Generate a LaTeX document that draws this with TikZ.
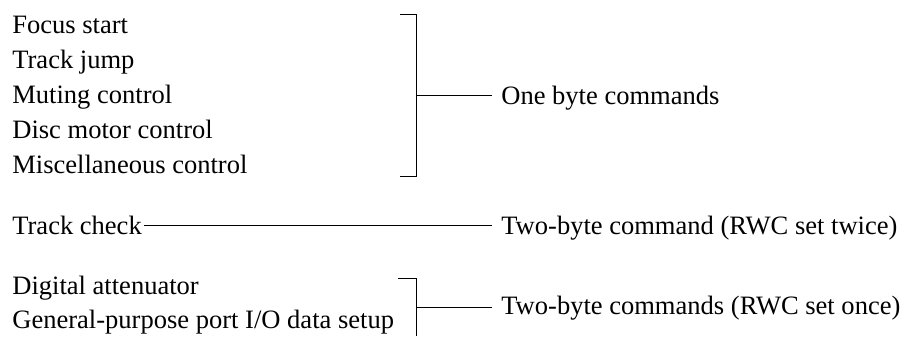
\documentclass[tikz,border=0pt]{standalone}
\usepackage{fontspec}
\setmainfont{Liberation Serif}
\usepackage{tikz}
\usetikzlibrary{positioning}

\tikzset{item/.style={inner sep=0pt, anchor=base west, font=\fontsize{15.1pt}{18pt}\selectfont}}

\begin{document}
\begin{tikzpicture}
		\useasboundingbox (0,0) rectangle (18.10,-6.72);

		\node[item] (focus) at (0.24,-0.66) {Focus start};
		\node[item] (jump) at (0.24,-1.36) {Track jump};
		\node[item] (muting) at (0.24,-2.06) {Muting control};
		\node[item] (disc) at (0.24,-2.76) {Disc motor control};
		\node[item] (misc) at (0.24,-3.46) {Miscellaneous control};
		\node[item] (onebyte) at (10.02,-2.08) {One byte commands};

		\node[item] (check) at (0.24,-4.68) {Track check};
		\node[item] (twice) at (10.02,-4.68) {Two-byte command (RWC set twice)};

		\node[item] (atten) at (0.24,-5.88) {Digital attenuator};
		\node[item] (port) at (0.24,-6.56) {General-purpose port I/O data setup};
		\node[item] (once) at (10.02,-6.28) {Two-byte commands (RWC set once)};

		\coordinate (bracketA) at (8.32,-1.90);
		\draw (8.00,-0.28) -- (8.32,-0.28) -- (8.32,-3.52) -- (8.00,-3.52);
		\draw [shorten >=0.18cm] (bracketA) -- (bracketA -| onebyte.west);

		\draw [shorten <=0.04cm, shorten >=0.18cm] (check.east) -- (check.east -| twice.west);

		\coordinate (bracketB) at (8.32,-6.14);
		\draw (7.96,-5.56) -- (8.32,-5.56) -- (8.32,-6.72);
		\draw [shorten >=0.18cm] (bracketB) -- (bracketB -| once.west);
	\end{tikzpicture}
\end{document}
